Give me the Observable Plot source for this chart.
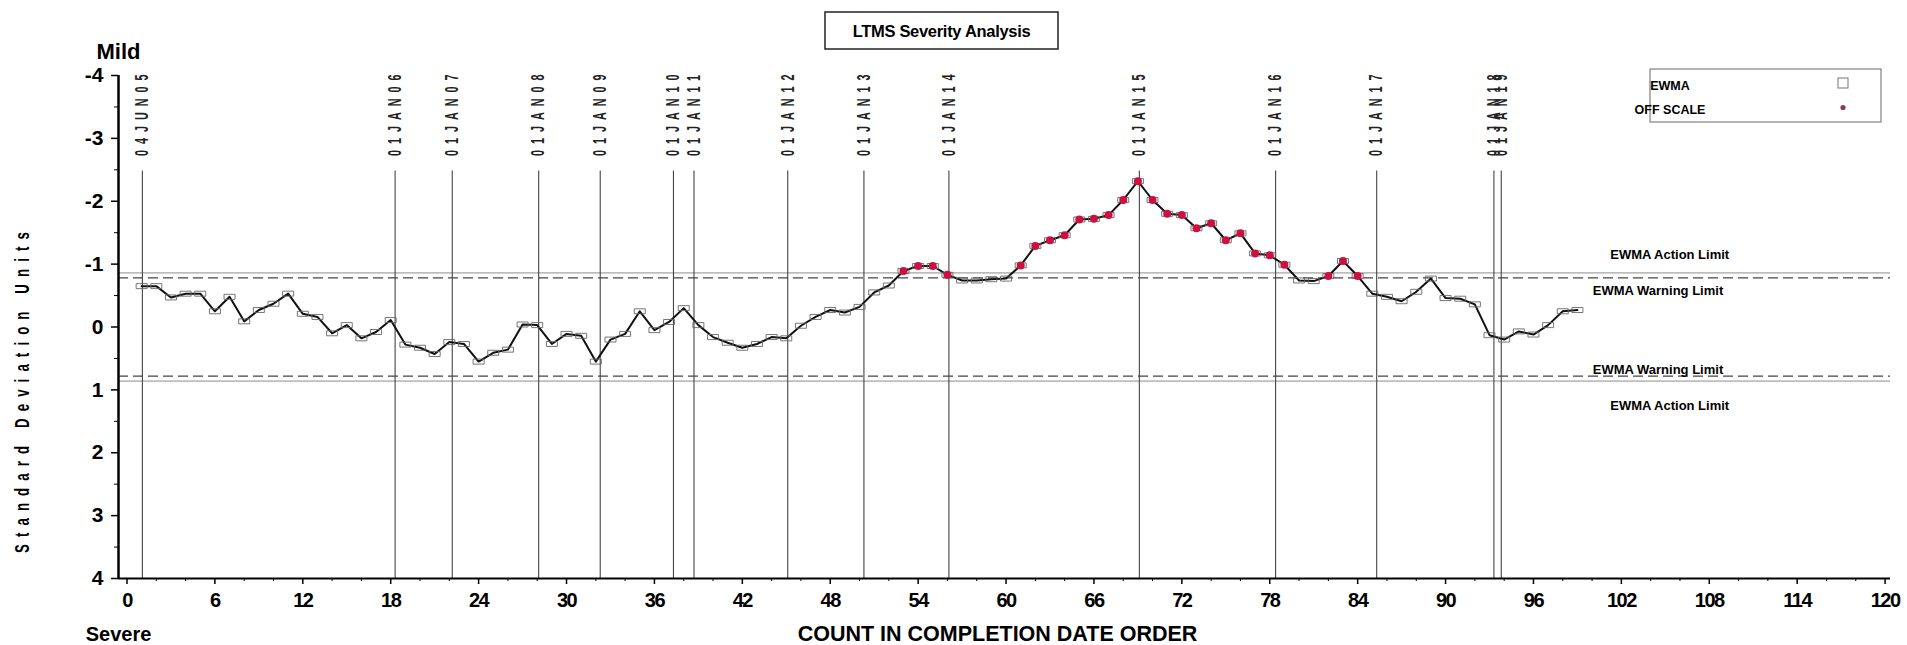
<!DOCTYPE html>
<html>
<head>
<meta charset="utf-8">
<script src="https://cdn.jsdelivr.net/npm/d3@7"></script>
<script src="https://cdn.jsdelivr.net/npm/@observablehq/plot@0.6"></script>
<style>
  html, body { margin: 0; padding: 0; background: #fff; }
  #chart svg { display: block; }
</style>
</head>
<body>
<div id="chart"></div>
<script>
// ---- data ----
const ewma = [
  -0.65, -0.65, -0.47, -0.53, -0.53, -0.25, -0.48, -0.09, -0.27, -0.37,
  -0.53, -0.21, -0.16,  0.10, -0.03,  0.18,  0.08, -0.11,  0.28,  0.33,
   0.43,  0.24,  0.27,  0.55,  0.41,  0.36, -0.04, -0.03,  0.27,  0.11,
   0.14,  0.55,  0.20,  0.11, -0.25,  0.05, -0.08, -0.30, -0.03,  0.16,
   0.25,  0.33,  0.27,  0.16,  0.18, -0.02, -0.16, -0.27, -0.23, -0.32,
  -0.55, -0.66, -0.89, -0.97, -0.97, -0.83, -0.74, -0.74, -0.76, -0.77,
  -0.98, -1.29, -1.38, -1.46, -1.71, -1.72, -1.78, -2.02, -2.32, -2.02,
  -1.80, -1.78, -1.57, -1.65, -1.38, -1.49, -1.17, -1.14, -0.99, -0.74,
  -0.73, -0.81, -1.05, -0.81, -0.53, -0.48, -0.41, -0.56, -0.77, -0.46,
  -0.45, -0.36,  0.13,  0.20,  0.07,  0.12, -0.03, -0.25, -0.27
];
const dateLabels = ["04JUN05","01JAN06","01JAN07","01JAN08","01JAN09","01JAN10","01JAN11",
  "01JAN12","01JAN13","01JAN14","01JAN15","01JAN16","01JAN17","01JAN18","01JAN19"];
const datePositions = [1.05, 18.3, 22.2, 28.1, 32.3, 37.3, 38.7, 45.1, 50.3, 56.1, 69.1, 78.4, 85.3, 93.3, 93.8];
const xTicks = [0, 6, 12, 18, 24, 30, 36, 42, 48, 54, 60, 66, 72, 78, 84, 90, 96, 102, 108, 114, 120];
const xMinorTicks = [2,4,8,10,14,16,20,22,26,28,32,34,38,40,44,46,50,52,56,58,62,64,68,70,74,76,80,82,86,88,92,94,98,100,104,106,110,112,116,118];
const yTicks = [-4, -3, -2, -1, 0, 1, 2, 3, 4];
const yMinorTicks = [-3.5, -2.5, -1.5, -0.5, 0.5, 1.5, 2.5, 3.5];
const warningLimit = 0.78;
const actionLimit = 0.86;
const limitLabels = ["EWMA Action Limit", "EWMA Warning Limit"];
const legendLabels = ["EWMA", "OFF SCALE"];
const titleText = "LTMS Severity Analysis";
const yTitle = "Standard Deviation Units";
const xTitle = "COUNT IN COMPLETION DATE ORDER";

const data = ewma.map((v, i) => ({x: i + 1, v, off: Math.abs(v) > warningLimit}));

const xMin = -0.58, xMax = 120.37;
const font = "'Liberation Sans', Arial, sans-serif";

// flat open rectangle symbol used by the EWMA points
const flatBox = {
  draw(ctx, size) {
    const r = Math.sqrt(size / Math.PI);
    ctx.rect(-r * 1.1, -r * 0.5, r * 2.2, r);
  }
};

const svg = Plot.plot({
  width: 1907,
  height: 645,
  marginLeft: 118,
  marginRight: 17,
  marginTop: 75,
  marginBottom: 67,
  x: {domain: [xMin, xMax]},
  y: {domain: [-4, 4], reverse: true},
  style: {fontFamily: font, fontSize: "12px", color: "#000", background: "#fff", overflow: "visible"},
  marks: [
    Plot.ruleY([-actionLimit, actionLimit], {stroke: "#8c8c8c", strokeWidth: 1}),
    Plot.ruleY([-warningLimit, warningLimit], {stroke: "#444", strokeWidth: 1.3, strokeDasharray: "10,5"}),
    Plot.ruleX(datePositions, {x: d => d, y1: -2.48, y2: 4, stroke: "#444", strokeWidth: 1.1}),
    Plot.text(datePositions, {x: d => d, y: -2.72, text: (d, i) => dateLabels[i], rotate: -90,
      textAnchor: "start", fontSize: 18, fontWeight: "bold", fill: "#222"}),
    Plot.line(data, {x: "x", y: "v", stroke: "#111", strokeWidth: 2}),
    Plot.dot(data, {x: "x", y: "v", symbol: flatBox, r: 5, stroke: "#666", strokeWidth: 0.9, fill: "none"}),
    Plot.dot(data.filter(d => d.off), {x: "x", y: "v", r: 4, fill: "#cc1140", stroke: "none"}),
    // axes
    Plot.ruleY([4], {stroke: "#000", strokeWidth: 2}),
    Plot.ruleX([xMin], {stroke: "#000", strokeWidth: 2.5}),
    Plot.axisY({ticks: yTicks, tickSize: 7, tickPadding: 8, fontSize: 21, fontWeight: "bold", label: null, stroke: "#000", strokeWidth: 1.5,
      tickFormat: d => (d < 0 ? "-" + (-d) : String(d))}),
    Plot.axisY({ticks: yMinorTicks, tickSize: 4, tickFormat: () => "", label: null, stroke: "#000"}),
    Plot.axisX({ticks: xTicks, tickSize: 6, tickPadding: 8, fontSize: 20, fontWeight: "bold", label: null, stroke: "#000", strokeWidth: 1.5}),
    Plot.axisX({ticks: xMinorTicks, tickSize: 3, tickFormat: () => "", label: null, stroke: "#000"}),
    // axis titles and ends
    Plot.text(["Mild"], {text: d => d, frameAnchor: "top-left", dx: 0, dy: -24, fontSize: 22, fontWeight: "bold", textAnchor: "middle", lineAnchor: "middle"}),
    Plot.text(["Severe"], {text: d => d, frameAnchor: "bottom-left", dx: 0, dy: 56, fontSize: 20, fontWeight: "bold", textAnchor: "middle", lineAnchor: "middle"}),
    Plot.text([xTitle], {text: d => d, frameAnchor: "bottom", dx: -7, dy: 56, fontSize: 21.5, fontWeight: "bold", textAnchor: "middle", lineAnchor: "middle"}),
    Plot.text([yTitle], {text: d => d, frameAnchor: "left", dx: -96, dy: 62, rotate: -90, fontSize: 20, fontWeight: "bold",
      textAnchor: "middle", lineAnchor: "middle"}),
    // limit labels
    Plot.text([limitLabels[0]], {text: d => d, x: 105.3, y: -actionLimit, dy: -18, fontSize: 13, fontWeight: "bold", textAnchor: "middle", lineAnchor: "middle"}),
    Plot.text([limitLabels[1]], {text: d => d, x: 104.5, y: -warningLimit, dy: 13, fontSize: 13, fontWeight: "bold", textAnchor: "middle", lineAnchor: "middle"}),
    Plot.text([limitLabels[1]], {text: d => d, x: 104.5, y: warningLimit, dy: -6, fontSize: 13, fontWeight: "bold", textAnchor: "middle", lineAnchor: "middle"}),
    Plot.text([limitLabels[0]], {text: d => d, x: 105.3, y: actionLimit, dy: 25, fontSize: 13, fontWeight: "bold", textAnchor: "middle", lineAnchor: "middle"})
  ]
});

document.getElementById("chart").append(svg);
const s = d3.select(svg);

// condensed, letter-spaced rotated labels (as in the SAS output)
function condense(sel, sx, spacing) {
  sel.each(function() {
    const t = this.getAttribute("transform");
    if (t) this.setAttribute("transform", t + ` scale(${sx},1)`);
    this.setAttribute("letter-spacing", spacing);
  });
}
condense(s.selectAll("text").filter(function() { return dateLabels.includes(this.textContent); }), 0.6, "10px");
condense(s.selectAll("text").filter(function() { return this.textContent === yTitle; }), 0.66, "10.8px");
// tighter tick digits
s.selectAll('g[aria-label="x-axis tick label"] text').attr("letter-spacing", "-1.5px");

// title box
const tg = s.append("g");
tg.append("rect").attr("x", 825).attr("y", 12).attr("width", 233).attr("height", 37)
  .attr("fill", "none").attr("stroke", "#222").attr("stroke-width", 1.5);
tg.append("text").attr("x", 941.5).attr("y", 31).attr("dy", "0.35em").attr("text-anchor", "middle")
  .attr("font-size", 16.5).attr("font-weight", "bold").attr("letter-spacing", "-0.3px")
  .attr("font-family", font).attr("fill", "#000").text(titleText);

// legend box
const lg = s.append("g");
lg.append("rect").attr("x", 1650).attr("y", 69).attr("width", 231).attr("height", 53)
  .attr("fill", "none").attr("stroke", "#666").attr("stroke-width", 1);
lg.append("text").attr("x", 1670).attr("y", 86).attr("dy", "0.35em").attr("font-size", 12.5).attr("font-weight", "bold")
  .attr("font-family", font).text(legendLabels[0]);
lg.append("text").attr("x", 1670).attr("y", 110).attr("dy", "0.35em").attr("font-size", 12.5).attr("font-weight", "bold")
  .attr("font-family", font).text(legendLabels[1]);
lg.append("rect").attr("x", 1838).attr("y", 78).attr("width", 10).attr("height", 10)
  .attr("fill", "none").attr("stroke", "#777").attr("stroke-width", 1);
lg.append("circle").attr("cx", 1843).attr("cy", 107.5).attr("r", 2.6).attr("fill", "#8a3a55");
</script>
</body>
</html>
